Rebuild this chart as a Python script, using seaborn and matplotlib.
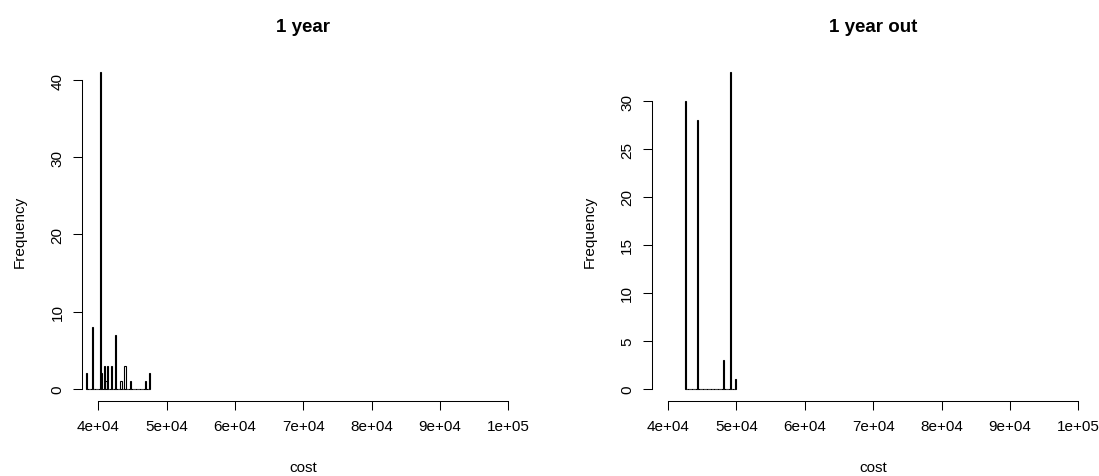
import matplotlib
matplotlib.use("Agg")
import matplotlib.pyplot as plt
import seaborn as sns

# histogram bins (bin centre, count), bin width 200
cost_1yr = [38300, 39100, 40300, 40500, 40900, 41100, 41300, 41900,
            42500, 43300, 43900, 44700, 46900, 47500]
freq_1yr = [2, 8, 41, 2, 3, 1, 3, 3, 7, 1, 3, 1, 1, 2]

cost_out = [42500, 44300, 48100, 49100, 49900]
freq_out = [30, 28, 3, 33, 1]

x_ticks = [40000, 50000, 60000, 70000, 80000, 90000, 100000]
x_labels = ["4e+04", "5e+04", "6e+04", "7e+04", "8e+04", "9e+04", "1e+05"]

sns.set_style("ticks")
plt.rcParams["font.family"] = ["Liberation Sans", "DejaVu Sans"]
plt.rcParams["text.color"] = "black"
plt.rcParams["axes.labelcolor"] = "black"
plt.rcParams["xtick.color"] = "black"
plt.rcParams["ytick.color"] = "black"

fig = plt.figure(figsize=(10.99, 4.77), dpi=100)
ax1 = fig.add_axes([0.0746, 0.1566, 0.403, 0.716])
ax2 = fig.add_axes([0.593, 0.1566, 0.403, 0.716])


def draw(ax, costs, freqs, brange, yt, ymax, title):
    sns.histplot(x=costs, weights=freqs, binwidth=200, binrange=brange,
                 fill=False, color="black", linewidth=0.8, ax=ax)
    ax.set_xlim(37600, 102400)
    pad = ymax * 0.04
    ax.set_ylim(-pad, ymax + pad)
    ax.set_xticks(x_ticks)
    ax.set_xticklabels(x_labels, fontsize=11)
    ax.set_yticks(yt)
    ax.set_yticklabels([str(v) for v in yt], fontsize=11,
                       rotation=90, va="center")
    ax.tick_params(length=6.5, width=0.75, color="black", pad=6)
    for side in ("top", "right"):
        ax.spines[side].set_visible(False)
    ax.spines["left"].set_bounds(yt[0], yt[-1])
    ax.spines["bottom"].set_bounds(x_ticks[0], x_ticks[-1])
    for side in ("left", "bottom"):
        ax.spines[side].set_linewidth(0.75)
        ax.spines[side].set_color("black")
    ax.set_xlabel("cost", fontsize=11, labelpad=20)
    ax.set_ylabel("Frequency", fontsize=11, labelpad=17)
    ax.set_title(title, fontsize=13.5, fontweight="bold", pad=21)


draw(ax1, cost_1yr, freq_1yr, (38200, 47600), [0, 10, 20, 30, 40], 41, "1 year")
draw(ax2, cost_out, freq_out, (42400, 50000), [0, 5, 10, 15, 20, 25, 30], 33, "1 year out")

fig.savefig("out.png", dpi=100)
